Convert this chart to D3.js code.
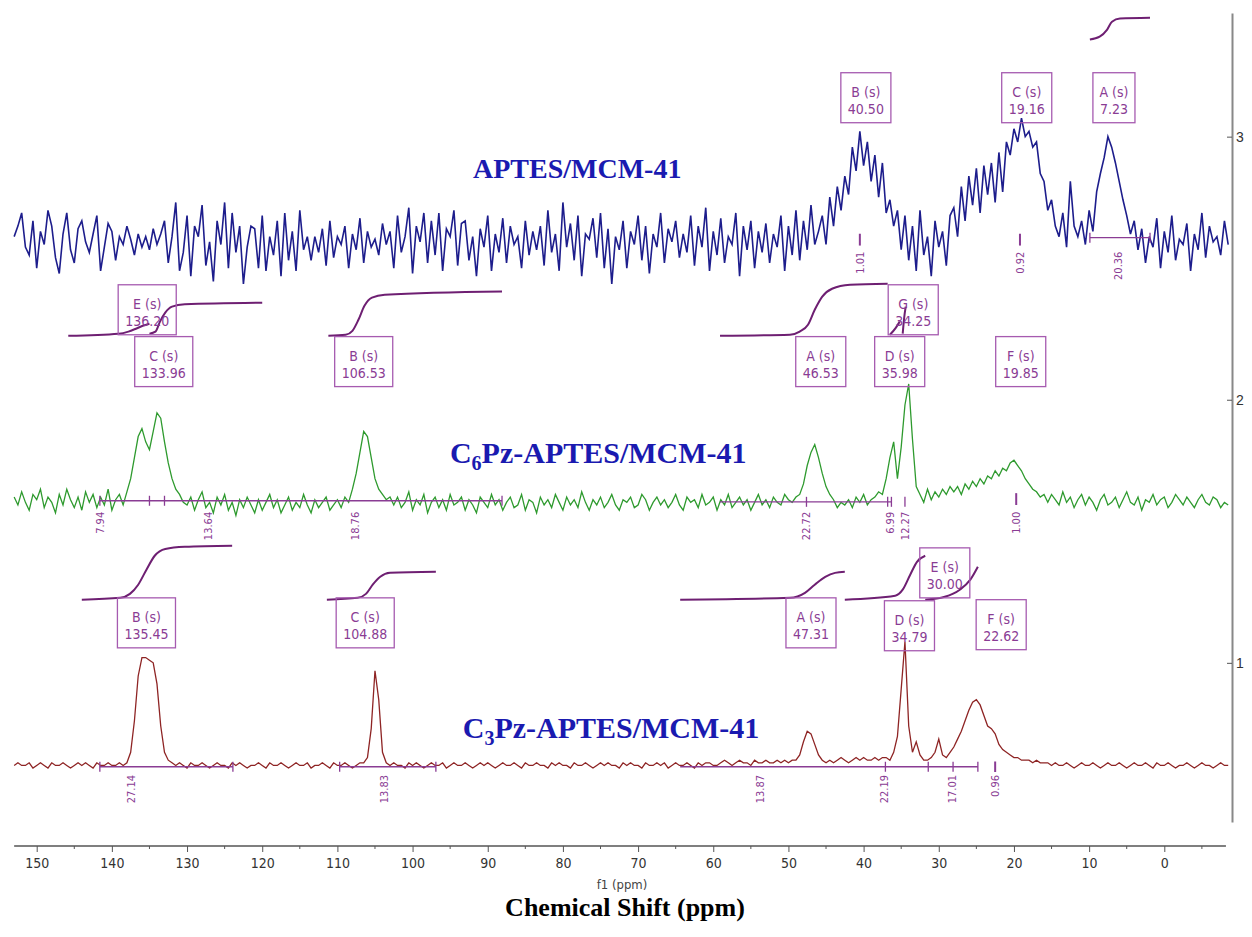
<!DOCTYPE html>
<html>
<head>
<meta charset="utf-8">
<script src="https://cdn.jsdelivr.net/npm/d3@7"></script>
<style>
body { margin: 0; background: #fff; }
</style>
</head>
<body>
<div id="chart"></div>
<script>
// spectra sampled every 0.5 ppm from 153 down to -8.5, intensity x100 (right axis units)
var ppmStart = 153, ppmStep = 0.5;

var aptes = [
  262,266,271,258,255,268,250,264,259,272,266,254,248,263,271,257,252,265,268,260,
  256,263,270,249,258,267,264,253,262,259,266,261,255,263,258,262,257,265,259,263,
  268,252,262,275,249,256,270,247,266,262,274,251,260,245,268,259,275,250,271,256,
  266,244,258,266,265,250,270,249,262,255,268,247,271,253,264,249,272,257,262,253,
  262,256,265,251,268,254,262,259,266,250,263,257,269,252,264,258,261,255,267,259,
  264,250,270,256,262,273,248,266,260,271,252,268,255,271,249,265,262,272,251,267,
  268,253,262,247,265,258,270,249,263,256,269,252,266,259,262,250,268,255,264,257,
  266,251,272,256,263,249,275,258,267,253,270,247,263,261,269,254,271,250,265,244,
  262,257,268,250,264,259,270,253,266,248,263,258,271,252,265,260,268,254,263,256,
  270,251,266,258,273,249,264,255,269,252,262,259,271,247,266,257,268,250,264,256,
  267,252,263,258,270,249,266,255,272,253,268,257,274,259,
  264,270,259,277,266,281,272,285,278,296,287,302,289,298,283,293,277,290,271,276,266,272,
  257,270,253,266,249,272,255,262,247,268,258,264,251,270,
  273,262,281,268,285,274,288,271,289,278,290,275,294,279,298,293,303,298,307,300,
  302,296,298,286,283,272,276,266,
  262,271,258,283,266,262,
  268,259,272,264,279,286,292,300,296,290,283,276,270,263,268,257,
  265,252,262,258,269,250,264,256,270,253,261,259,267,249,263,257,271,254,266,260,262,255,268,259
];

var c6pz = [
  163,160,165,161,158,164,162,166,159,163,161,157,164,160,166,162,159,163,158,165,
  161,164,159,163,160,166,158,162,164,160,
  165,170,178,186,189,184,181,188,195,193,184,176,170,166,164,161,
  160,163,158,162,165,159,161,157,163,160,164,158,161,156,162,159,163,160,157,162,
  158,161,164,159,162,157,160,163,158,161,159,164,160,157,162,159,161,163,158,160,
  162,159,163,161,
  166,172,180,188,186,178,170,166,164,162,163,
  160,163,159,161,165,158,162,160,164,157,161,163,159,162,158,164,160,161,163,158,
  162,160,157,163,161,159,164,160,162,158,161,163,159,160,164,158,162,161,157,163,
  160,162,159,164,161,158,163,160,162,159,165,161,158,162,160,163,159,161,164,160,
  158,162,161,163,159,160,164,162,158,161,163,160,162,159,161,164,160,158,163,161,
  162,159,164,160,161,163,158,162,160,164,159,161,163,160,162,158,161,164,160,162,
  159,163,161,160,164,162,161,163,
  164,168,175,180,183,178,172,167,164,162,159,161,
  160,162,159,163,161,164,160,162,163,165,164,
  170,178,184,170,182,198,206,185,167,
  164,161,166,162,165,163,166,164,167,
  165,167,164,168,166,169,167,170,168,171,170,173,171,174,173,176,177,175,173,170,
  168,166,165,163,164,
  161,164,162,160,165,161,163,159,162,164,160,163,161,158,162,164,160,161,163,159,
  162,165,161,160,163,158,162,161,164,160,162,163,159,161,164,162,160,163,161,159,
  162,164,161,160,163,162,159,161,160
];

var c3pz = [
  61,62,61,61,62,60,61,62,61,60,62,61,61,62,61,60,61,62,61,62,61,60,62,61,61,62,61,61,62,61,
  62,66,78,95,102,102,101,100,92,76,66,63,62,
  61,62,61,60,62,61,61,62,61,60,61,62,61,61,60,62,61,62,61,60,
  61,61,62,61,60,62,61,61,62,61,60,61,62,61,61,62,60,61,61,62,
  61,60,62,61,61,62,61,60,61,62,62,
  64,75,97,86,66,62,
  61,62,61,61,60,62,61,62,61,60,61,62,61,61,62,60,61,62,61,61,
  62,61,60,61,62,61,62,61,60,61,62,61,61,62,61,60,62,61,61,62,
  61,61,60,62,61,62,61,61,60,62,61,61,62,61,60,61,62,61,62,61,
  61,60,62,61,62,61,61,60,62,61,61,62,61,62,60,61,62,61,61,62,
  61,60,62,61,62,62,61,61,62,63,62,61,62,63,62,62,61,63,62,62,
  63,62,62,63,62,63,62,63,
  63,65,70,74,73,69,65,63,62,
  63,62,63,64,63,62,63,64,63,64,63,63,64,63,64,64,63,
  66,72,90,108,76,66,70,65,63,63,64,66,71,65,64,66,68,71,74,78,
  82,85,86,84,80,76,75,73,69,67,66,65,64,64,63,63,63,62,63,62,62,
  62,61,62,61,61,62,61,60,61,62,61,61,62,61,60,61,62,61,61,62,
  61,60,61,62,61,61,62,61,60,62,61,61,62,61,60,61,61,62,61,60,
  61,62,61,61,60,61,62,61,61
];

// x ticks
var majorTicks = [150,140,130,120,110,100,90,80,70,60,50,40,30,20,10,0];
var minorTicks = [145,135,125,115,105,95,85,75,65,55,45,35,25,15,5,-5];
var rightTicks = [1,2,3];

// integral curves [ppm, height]
var integrals = [
  [[9.9,3.369],[8.6,3.380],[7.6,3.407],[6.96,3.437],[5.9,3.449],[1.9,3.452]],
  [[145.8,2.243],[139.1,2.251],[137.8,2.259],[136.8,2.270],[135.9,2.281],[135.0,2.289]],
  [[135.0,2.251],[134.2,2.259],[133.6,2.297],[132.9,2.331],[132.0,2.354],[130.3,2.363],[120.0,2.369]],
  [[111.2,2.243],[108.9,2.247],[108.0,2.262],[107.2,2.304],[106.4,2.357],[105.4,2.388],[103.7,2.399],[88.1,2.411]],
  [[59.1,2.243],[49.8,2.247],[48.5,2.259],[47.4,2.285],[46.5,2.342],[45.5,2.392],[44.2,2.422],[41.8,2.437],[36.8,2.441]],
  [[36.5,2.247],[35.7,2.274],[35.2,2.297]],
  [[34.8,2.251],[34.6,2.312],[34.4,2.354]],
  [[144.0,1.240],[138.9,1.247],[137.6,1.262],[136.5,1.297],[135.4,1.354],[134.3,1.407],[132.9,1.433],[130.3,1.441],[124.0,1.445]],
  [[111.4,1.240],[107.3,1.247],[106.2,1.262],[105.3,1.297],[104.3,1.327],[103.0,1.342],[96.9,1.346]],
  [[64.4,1.240],[49.8,1.247],[47.8,1.266],[46.5,1.297],[45.1,1.327],[43.8,1.342],[42.5,1.346]],
  [[42.5,1.240],[35.8,1.255],[34.8,1.278],[33.8,1.335],[32.9,1.384],[31.8,1.407]],
  [[31.8,1.240],[29.2,1.251],[27.2,1.278],[25.8,1.316],[24.8,1.365]]
];

// peak label boxes [name, shift, ppm (centre), top]
var peakLabels = [
  ["B (s)","40.50",39.7,3.243],["C (s)","19.16",18.3,3.243],["A (s)","7.23",6.7,3.243],
  ["E (s)","136.20",135.3,2.437],["C (s)","133.96",133.1,2.240],["B (s)","106.53",106.5,2.240],
  ["A (s)","46.53",45.7,2.240],["G (s)","34.25",33.4,2.437],["D (s)","35.98",35.2,2.240],
  ["F (s)","19.85",19.1,2.240],
  ["B (s)","135.45",135.4,1.247],["C (s)","104.88",106.3,1.247],["A (s)","47.31",47.0,1.247],
  ["E (s)","30.00",29.2,1.437],["D (s)","34.79",33.9,1.236],["F (s)","22.62",21.7,1.240]
];

// integral values [text, ppm, top]
var integralValues = [
  ["1.01",40.5,2.563],["0.92",19.2,2.563],["20.36",6.2,2.563],
  ["7.94",141.6,1.574],["13.64",127.2,1.574],["18.76",107.7,1.574],["22.72",47.6,1.574],
  ["6.99",36.5,1.574],["12.27",34.5,1.574],["1.00",19.7,1.574],
  ["27.14",137.4,0.574],["13.83",103.8,0.574],["13.87",53.8,0.574],["22.19",37.3,0.574],
  ["17.01",28.2,0.574],["0.96",22.5,0.574]
];

// integral ranges [from, to, level, marks]
var integralBars = [
  [9.9,1.9,2.616,[9.9,1.9]],
  [141.6,88.1,1.616,[141.6,135.0,133.0,88.1]],
  [59.1,36.3,1.612,[47.6,36.8,36.3,34.5]],
  [141.6,123.9,0.605,[141.6,123.9]],
  [109.7,96.9,0.605,[109.7,96.9]],
  [64.4,24.8,0.605,[37.1,31.4,28.1,24.8]]
];
var singleMarks = [[40.5,2.631,2.586],[19.2,2.631,2.586],[19.7,1.645,1.600],[22.5,0.625,0.585]];

var titles = [
  ["APTES/MCM-41", "", 78.1, 2.844, 28],
  ["C", "6", 75.3, 1.760, 30],
  ["C", "3", 73.6, 0.715, 30]
];

var width = 1252, height = 937;
var x = d3.scaleLinear().domain([150, 0]).range([36.7, 1164.3]);
var y = d3.scaleLinear().domain([0.395, 3.47]).range([822, 13]);

var svg = d3.select("#chart").append("svg")
    .attr("width", width)
    .attr("height", height)
    .style("font-family", "'DejaVu Sans Condensed', 'DejaVu Sans', sans-serif");

// bottom axis
var xAxis = d3.axisBottom(x)
    .tickValues(majorTicks)
    .tickSizeInner(6)
    .tickSizeOuter(0)
    .tickPadding(6)
    .tickFormat(d3.format("d"));
var gx = svg.append("g")
    .attr("transform", "translate(0,846)")
    .call(xAxis);
gx.select(".domain").remove();
gx.append("line")
    .attr("x1", x(153)).attr("x2", x(-8.2))
    .attr("stroke", "#555").attr("stroke-width", 1.5);
gx.selectAll(".tick line").attr("stroke", "#555");
gx.selectAll(".tick text")
    .attr("fill", "#333")
    .style("font-size", "14px")
    .style("font-family", "'DejaVu Sans Condensed', sans-serif");
gx.selectAll(".minor")
    .data(minorTicks)
    .enter().append("line")
    .attr("class", "minor")
    .attr("x1", function(d) { return x(d); })
    .attr("x2", function(d) { return x(d); })
    .attr("y1", 0).attr("y2", 3)
    .attr("stroke", "#555");

svg.append("text")
    .attr("x", 622).attr("y", 889)
    .attr("text-anchor", "middle")
    .attr("fill", "#444")
    .style("font-size", "13px")
    .text("f1 (ppm)");

svg.append("text")
    .attr("x", 625).attr("y", 916)
    .attr("text-anchor", "middle")
    .style("font-family", "'Liberation Serif', 'Times New Roman', serif")
    .style("font-weight", "bold")
    .style("font-size", "26px")
    .text("Chemical Shift (ppm)");

// right axis
var yAxis = d3.axisRight(y)
    .tickValues(rightTicks)
    .tickSizeInner(-5)
    .tickSizeOuter(0)
    .tickPadding(4)
    .tickFormat(d3.format("d"));
var gy = svg.append("g")
    .attr("transform", "translate(1232,0)")
    .call(yAxis);
gy.select(".domain").attr("stroke", "#888").attr("stroke-width", 2);
gy.selectAll(".tick line").attr("stroke", "#555");
gy.selectAll(".tick text")
    .attr("fill", "#333")
    .style("font-size", "14px");

// spectra
var spectrum = d3.line()
    .x(function(d, i) { return x(ppmStart - i * ppmStep); })
    .y(function(d) { return y(d / 100); });

svg.append("path").datum(aptes)
    .attr("fill", "none").attr("stroke", "#1d1d8c").attr("stroke-width", 1.6)
    .attr("d", spectrum);
svg.append("path").datum(c6pz)
    .attr("fill", "none").attr("stroke", "#2e9a2e").attr("stroke-width", 1.3)
    .attr("d", spectrum);
svg.append("path").datum(c3pz)
    .attr("fill", "none").attr("stroke", "#8e2424").attr("stroke-width", 1.3)
    .attr("d", spectrum);

var purple = "#8a3c94";

// integral ranges
integralBars.forEach(function(b) {
    svg.append("line")
        .attr("x1", x(b[0])).attr("x2", x(b[1]))
        .attr("y1", y(b[2])).attr("y2", y(b[2]))
        .attr("stroke", purple).attr("stroke-width", 1.3);
    svg.selectAll(null)
        .data(b[3])
        .enter().append("line")
        .attr("x1", function(d) { return x(d); })
        .attr("x2", function(d) { return x(d); })
        .attr("y1", y(b[2]) - 5).attr("y2", y(b[2]) + 5)
        .attr("stroke", purple).attr("stroke-width", 1.3);
});
svg.selectAll(".mark")
    .data(singleMarks)
    .enter().append("line")
    .attr("class", "mark")
    .attr("x1", function(d) { return x(d[0]); })
    .attr("x2", function(d) { return x(d[0]); })
    .attr("y1", function(d) { return y(d[1]); })
    .attr("y2", function(d) { return y(d[2]); })
    .attr("stroke", purple).attr("stroke-width", 2);

svg.selectAll(".ival")
    .data(integralValues)
    .enter().append("text")
    .attr("class", "ival")
    .attr("transform", function(d) { return "translate(" + (x(d[1]) + 4) + "," + y(d[2]) + ") rotate(-90)"; })
    .attr("text-anchor", "end")
    .attr("fill", purple)
    .style("font-size", "11px")
    .text(function(d) { return d[0]; });

// integral curves
var curve = d3.line()
    .x(function(d) { return x(d[0]); })
    .y(function(d) { return y(d[1]); })
    .curve(d3.curveMonotoneX);
svg.selectAll(".integral")
    .data(integrals)
    .enter().append("path")
    .attr("class", "integral")
    .attr("fill", "none")
    .attr("stroke", "#6e1f72")
    .attr("stroke-width", 2)
    .attr("d", curve);

// peak label boxes
var boxes = svg.selectAll(".peak")
    .data(peakLabels)
    .enter().append("g")
    .attr("class", "peak")
    .attr("transform", function(d) { return "translate(" + x(d[2]) + "," + y(d[3]) + ")"; });
boxes.append("text")
    .attr("y", 24)
    .attr("text-anchor", "middle")
    .attr("fill", purple)
    .style("font-size", "14px")
    .text(function(d) { return d[0]; });
boxes.append("text")
    .attr("class", "shift")
    .attr("y", 41)
    .attr("text-anchor", "middle")
    .attr("fill", purple)
    .style("font-size", "14px")
    .text(function(d) { return d[1]; });
boxes.each(function() {
    var g = d3.select(this);
    var w = g.select(".shift").node().getComputedTextLength() + 14;
    g.insert("rect", "text")
        .attr("x", -w / 2).attr("y", 0)
        .attr("width", w).attr("height", 50)
        .attr("fill", "none")
        .attr("stroke", "#a65bb0")
        .attr("stroke-width", 1.3);
});

// sample names
titles.forEach(function(t) {
    var txt = svg.append("text")
        .attr("x", x(t[2])).attr("y", y(t[3]))
        .attr("text-anchor", "middle")
        .attr("fill", "#1a1ab0")
        .style("font-family", "'Liberation Serif', 'Times New Roman', serif")
        .style("font-weight", "bold")
        .style("font-size", t[4] + "px");
    txt.append("tspan").text(t[0]);
    if (t[1]) {
        txt.append("tspan").attr("dy", 7).style("font-size", "20px").text(t[1]);
        txt.append("tspan").attr("dy", -7).text("Pz-APTES/MCM-41");
    }
});
</script>
</body>
</html>
